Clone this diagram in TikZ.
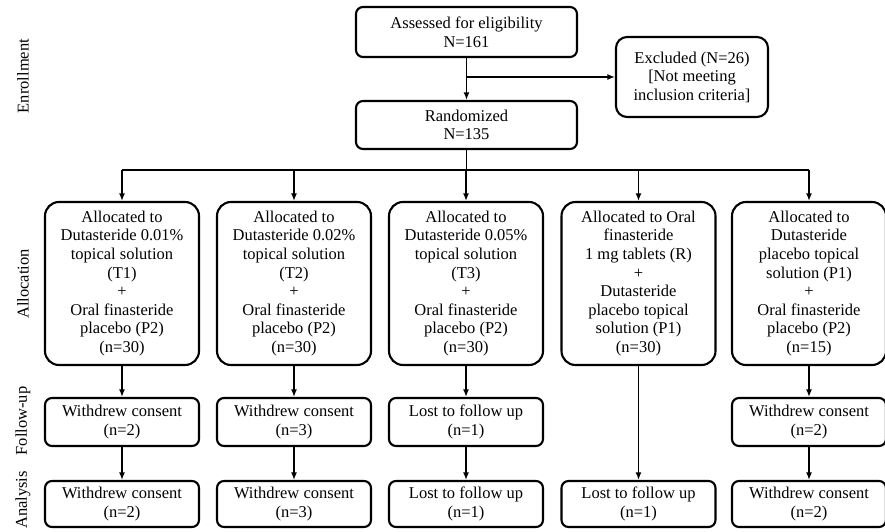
\documentclass[tikz,border=0pt]{standalone}
\usepackage{fontspec}
\setmainfont{Liberation Serif}
\usepackage{tikz}
\usetikzlibrary{arrows.meta,calc}

\begin{document}
\begin{tikzpicture}[x=1pt, y=-1pt, font=\fontsize{16.5}{18.6}\selectfont,
  >={Latex[length=7.5pt,width=6pt]}, line width=1.8pt,
  box/.style={draw, rounded corners=7pt, align=center, minimum width=154pt,
    minimum height=48pt, inner sep=0pt, line width=2.1pt},
  abox/.style={box, rounded corners=14pt, minimum height=163pt},
  stage/.style={rotate=90, inner sep=0pt}]
\useasboundingbox (0,0) rectangle (885,532);
% stages
\node[stage] (senr) at (23,76) {Enrollment};
\node[stage] (sall) at (23,284) {Allocation};
\node[stage] (sfol) at (23,421) {Follow-up};
\node[stage] (sana) at (23,500) {Analysis};
% enrollment
\node[box, minimum width=221pt, minimum height=50pt] (elig) at (466.5,32) {Assessed for eligibility\\N=161};
\node[box, minimum width=152pt, minimum height=80pt, rounded corners=11pt] (excl) at (692,77) {Excluded (N=26)\\{[}Not meeting\\inclusion criteria{]}};
\node[box, minimum width=221pt] (rand) at (466.5,125) {Randomized\\N=135};
% allocation
\node[abox] (a1) at (122,283.5) {Allocated to\\Dutasteride 0.01\%\\topical solution\\(T1)\\+\\Oral finasteride\\placebo (P2)\\(n=30)};
\node[abox] (a2) at (294,283.5) {Allocated to\\Dutasteride 0.02\%\\topical solution\\(T2)\\+\\Oral finasteride\\placebo (P2)\\(n=30)};
\node[abox] (a3) at (466,283.5) {Allocated to\\Dutasteride 0.05\%\\topical solution\\(T3)\\+\\Oral finasteride\\placebo (P2)\\(n=30)};
\node[abox] (a4) at (638.5,283.5) {Allocated to Oral\\finasteride\\1 mg tablets (R)\\+\\Dutasteride\\placebo topical\\solution (P1)\\(n=30)};
\node[abox] (a5) at (809,283.5) {Allocated to\\Dutasteride\\placebo topical\\solution (P1)\\+\\Oral finasteride\\placebo (P2)\\(n=15)};
% follow-up
\node[box] (f1) at (122,422) {Withdrew consent\\(n=2)};
\node[box] (f2) at (294,422) {Withdrew consent\\(n=3)};
\node[box] (f3) at (466,422) {Lost to follow up\\(n=1)};
\node[box] (f5) at (809,422) {Withdrew consent\\(n=2)};
% analysis
\node[box, minimum height=46pt] (n1) at (122,504) {Withdrew consent\\(n=2)};
\node[box, minimum height=46pt] (n2) at (294,504) {Withdrew consent\\(n=3)};
\node[box, minimum height=46pt] (n3) at (466,504) {Lost to follow up\\(n=1)};
\node[box, minimum height=46pt] (n4) at (638.5,504) {Lost to follow up\\(n=1)};
\node[box, minimum height=46pt] (n5) at (809,504) {Withdrew consent\\(n=2)};
% connectors
\draw[->] (elig) -- (rand);
\draw[->] (elig.south |- excl.west) -- (excl.west);
\draw (rand.south) -- ++(0,20) coordinate (bus);
\draw (a1.north |- bus) -- (a5.north |- bus);
\foreach \a in {a1,a2,a3,a4,a5} \draw[->] (\a.north |- bus) -- (\a.north);
\draw[->] (a1) -- (f1); \draw[->] (a2) -- (f2); \draw[->] (a3) -- (f3);
\draw[->] (a4) -- (n4); \draw[->] (a5) -- (f5);
\draw[->] (f1) -- (n1); \draw[->] (f2) -- (n2); \draw[->] (f3) -- (n3);
\draw[->] (f5) -- (n5);
\end{tikzpicture}
\end{document}
